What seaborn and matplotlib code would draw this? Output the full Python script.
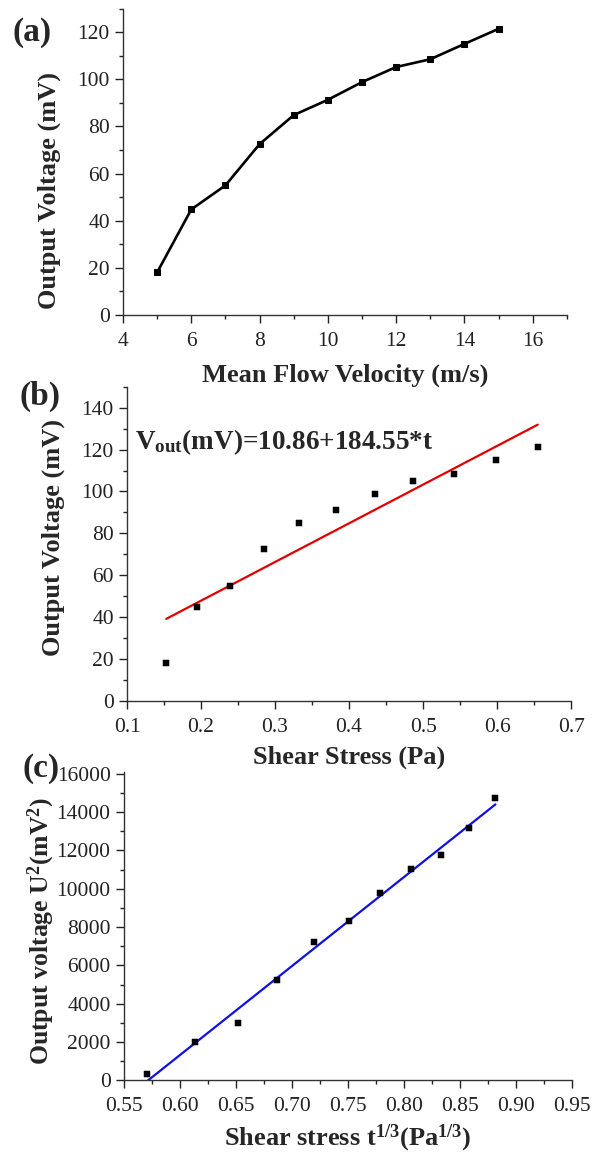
import numpy as np
import pandas as pd
import matplotlib
matplotlib.use("Agg")
import matplotlib.pyplot as plt
from matplotlib.ticker import MultipleLocator, FormatStrFormatter
import seaborn as sns

# values
velocity = [5, 6, 7, 8, 9, 10, 11, 12, 13, 14, 15]
voltage = [18.1, 44.8, 55.0, 72.5, 84.8, 91.3, 98.8, 105.2, 108.5, 115.0, 121.4]
shear = [0.153, 0.195, 0.239, 0.285, 0.333, 0.383, 0.435, 0.487, 0.542, 0.598, 0.655]
shear_cbrt = [0.5706, 0.6134, 0.6519, 0.6869, 0.7198, 0.7507, 0.7791, 0.8066, 0.8330, 0.8577, 0.8817]
voltage_sq = [330, 2025, 3010, 5240, 7200, 8290, 9770, 11020, 11760, 13150, 14740]

df = pd.DataFrame({'v': velocity, 'U': voltage, 't': shear, 't3': shear_cbrt, 'U2': voltage_sq})

sns.set_theme(style='ticks')
plt.rcParams['font.family'] = ['Liberation Serif', 'DejaVu Serif']
plt.rcParams['mathtext.fontset'] = 'custom'
plt.rcParams['mathtext.rm'] = 'Liberation Serif'
plt.rcParams['mathtext.bf'] = 'Liberation Serif:bold'
plt.rcParams['mathtext.it'] = 'Liberation Serif:italic'

fig = plt.figure(figsize=(5.98, 11.54), dpi=100)
ax_a = fig.add_axes([0.2057, 0.727, 0.7423, 0.2656])
ax_b = fig.add_axes([0.2124, 0.3925, 0.7426, 0.2724])
ax_c = fig.add_axes([0.2070, 0.0637, 0.7495, 0.2676])

label_kw = dict(fontsize=19, fontweight='bold')


def style_axis(ax, xlab_y, ylab_x, ylab_y):
    sns.despine(ax=ax)
    ax.set_facecolor('none')
    for s in ['left', 'bottom']:
        ax.spines[s].set_linewidth(1.0)
        ax.spines[s].set_color('#333333')
    ax.tick_params(which='major', direction='out', length=6, width=1, labelsize=15.5,
                   colors='#222222')
    ax.tick_params(which='minor', direction='out', length=3, width=1, colors='#222222')
    ax.tick_params(axis='x', which='major', pad=6)
    ax.xaxis.label.set_va('center')
    ax.yaxis.label.set_va('center')
    ax.xaxis.set_label_coords(0.5, xlab_y)
    ax.yaxis.set_label_coords(ylab_x, ylab_y)


# (a) voltage vs velocity
sns.lineplot(data=df, x='v', y='U', ax=ax_a, color='black', linewidth=1.9,
             marker='s', markersize=4.5, markeredgecolor='black')
ax_a.set_xlim(4, 17)
ax_a.set_ylim(0, 130)
ax_a.xaxis.set_major_locator(MultipleLocator(2))
ax_a.xaxis.set_minor_locator(MultipleLocator(1))
ax_a.yaxis.set_major_locator(MultipleLocator(20))
ax_a.yaxis.set_minor_locator(MultipleLocator(10))
ax_a.set_xlabel('Mean Flow Velocity (m/s)', **label_kw)
ax_a.set_ylabel('Output Voltage (mV)', **label_kw)
style_axis(ax_a, -0.196, -0.167, 0.405)

# (b) voltage vs shear stress with linear fit
sns.regplot(data=df, x='t', y='U', ax=ax_b, scatter=False, ci=None,
            line_kws=dict(color='#e00000', linewidth=1.6))
sns.scatterplot(data=df, x='t', y='U', ax=ax_b, color='black', marker='s', s=20,
                edgecolor='black', zorder=3)
ax_b.set_xlim(0.1, 0.7)
ax_b.set_ylim(0, 150)
ax_b.xaxis.set_major_locator(MultipleLocator(0.1))
ax_b.xaxis.set_minor_locator(MultipleLocator(0.05))
ax_b.xaxis.set_major_formatter(FormatStrFormatter('%.1f'))
ax_b.yaxis.set_major_locator(MultipleLocator(20))
ax_b.yaxis.set_minor_locator(MultipleLocator(10))
ax_b.set_xlabel('Shear Stress (Pa)', **label_kw)
ax_b.set_ylabel('Output Voltage (mV)', **label_kw)
ax_b.text(0.111, 120, r'V$_{\mathbf{out}}$(mV)=10.86+184.55*t', fontsize=19.5,
          fontweight='bold', va='baseline', ha='left')
style_axis(ax_b, -0.178, -0.167, 0.52)

# (c) squared voltage vs cube root of shear stress
sns.regplot(data=df, x='t3', y='U2', ax=ax_c, scatter=False, ci=None,
            line_kws=dict(color='#1010e0', linewidth=1.6))
sns.scatterplot(data=df, x='t3', y='U2', ax=ax_c, color='black', marker='s', s=20,
                edgecolor='black', zorder=3)
ax_c.set_xlim(0.55, 0.95)
ax_c.set_ylim(0, 16100)
ax_c.xaxis.set_major_locator(MultipleLocator(0.05))
ax_c.xaxis.set_minor_locator(MultipleLocator(0.025))
ax_c.xaxis.set_major_formatter(FormatStrFormatter('%.2f'))
ax_c.yaxis.set_major_locator(MultipleLocator(2000))
ax_c.yaxis.set_minor_locator(MultipleLocator(1000))
ax_c.set_xlabel(r'Shear stress t$^{\mathbf{1/3}}$(Pa$^{\mathbf{1/3}}$)', **label_kw)
ax_c.set_ylabel(r'Output voltage U$^{\mathbf{2}}$(mV$^{\mathbf{2}}$)', fontsize=18.5,
                fontweight='bold')
style_axis(ax_c, -0.186, -0.183, 0.485)

# panel letters
for lab, (px, py) in zip(['(a)', '(b)', '(c)'], [(32, 32), (40, 396), (41, 769)]):
    fig.text(px / 598, 1 - py / 1154, lab, fontsize=24, fontweight='bold',
             ha='center', va='center')

fig.savefig('out.png', dpi=100)
